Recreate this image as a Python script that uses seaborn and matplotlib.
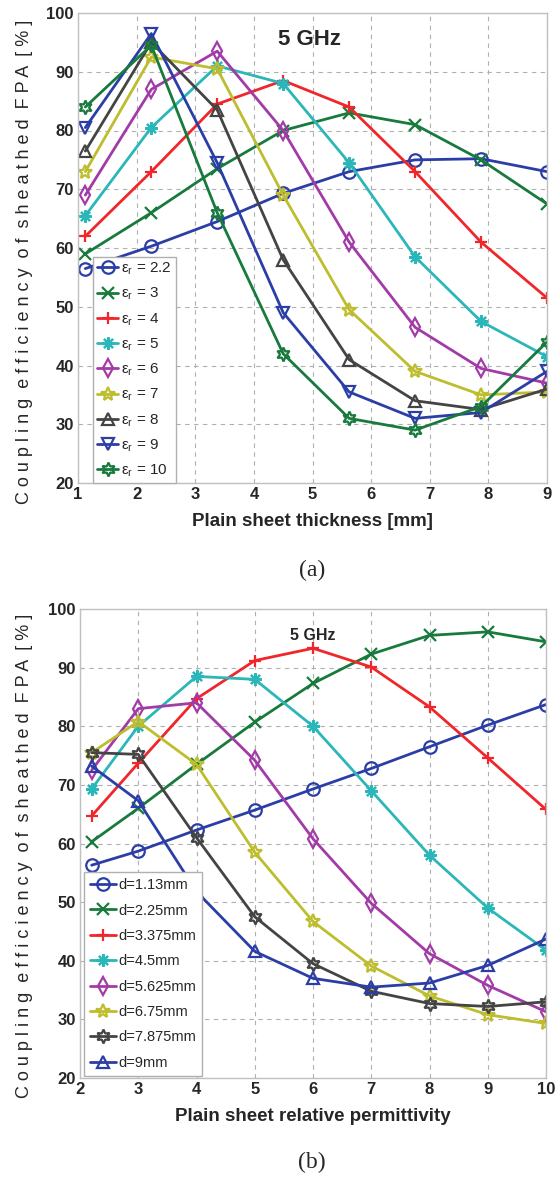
import matplotlib
matplotlib.use("Agg")
import matplotlib.pyplot as plt
import seaborn as sns
import numpy as np

# ---------------- data ----------------
thickness = [1.125, 2.25, 3.375, 4.5, 5.625, 6.75, 7.875, 9.0]
eps_labels = ["2.2", "3", "4", "5", "6", "7", "8", "9", "10"]
eff_eps22 = [56.5, 60.3, 64.5, 69.3, 73.0, 75.0, 75.2, 73.0]
eff_eps3 = [59.0, 66.0, 73.5, 80.0, 83.0, 81.0, 75.0, 67.5]
eff_eps4 = [62.0, 73.0, 84.5, 88.5, 84.0, 73.0, 61.0, 51.5]
eff_eps5 = [65.5, 80.5, 91.0, 88.0, 74.5, 58.5, 47.5, 41.5]
eff_eps6 = [69.0, 87.0, 93.5, 80.0, 61.0, 46.5, 39.5, 37.0]
eff_eps7 = [73.0, 92.5, 90.5, 69.0, 49.5, 39.0, 35.0, 35.5]
eff_eps8 = [76.5, 95.0, 83.5, 58.0, 41.0, 34.0, 32.5, 36.0]
eff_eps9 = [80.5, 96.5, 74.5, 49.0, 35.5, 31.0, 32.0, 39.0]
eff_eps10 = [84.0, 94.5, 66.0, 42.0, 31.0, 29.0, 33.0, 44.0]

permittivity = [2.2, 3, 4, 5, 6, 7, 8, 9, 10]
d_labels = ["d=1.13mm", "d=2.25mm", "d=3.375mm", "d=4.5mm", "d=5.625mm",
            "d=6.75mm", "d=7.875mm", "d=9mm"]
eff_d113 = [56.3, 58.7, 62.3, 65.7, 69.3, 72.8, 76.5, 80.2, 83.7]
eff_d225 = [60.3, 66.0, 73.5, 80.7, 87.3, 92.3, 95.5, 96.1, 94.4]
eff_d3375 = [64.7, 73.7, 84.7, 91.2, 93.3, 90.1, 83.3, 74.6, 65.8]
eff_d45 = [69.3, 80.0, 88.5, 88.0, 80.0, 69.0, 58.0, 49.0, 41.8]
eff_d5625 = [72.5, 83.0, 84.0, 74.2, 60.8, 49.8, 41.2, 35.8, 31.3]
eff_d675 = [75.5, 80.8, 73.5, 58.5, 46.7, 39.1, 34.0, 30.8, 29.3]
eff_d7875 = [75.5, 75.2, 61.0, 47.5, 39.5, 34.8, 32.7, 32.2, 33.0]
eff_d9 = [73.2, 67.3, 51.8, 41.6, 37.0, 35.5, 36.2, 39.2, 43.7]

# ---------------- style ----------------
sns.set_theme(style="white")
SANS = ["Liberation Sans", "DejaVu Sans"]
plt.rcParams["font.family"] = SANS
plt.rcParams["mathtext.default"] = "regular"

BLUE = "#2b3ea6"
GREEN = "#187a3c"
RED = "#f0262a"
CYAN = "#2bb7b9"
MAGENTA = "#a23aa8"
YELLOW = "#bdbd2e"
BLACK = "#444444"

hexagram = (6, 1, 0)
asterisk = (8, 2, 0)

top_colors = [BLUE, GREEN, RED, CYAN, MAGENTA, YELLOW, BLACK, BLUE, GREEN]
top_markers = ["o", "x", "+", asterisk, "d", "*", "^", "v", hexagram]
top_series = [eff_eps22, eff_eps3, eff_eps4, eff_eps5, eff_eps6, eff_eps7,
              eff_eps8, eff_eps9, eff_eps10]

bot_colors = [BLUE, GREEN, RED, CYAN, MAGENTA, YELLOW, BLACK, BLUE]
bot_markers = ["o", "x", "+", asterisk, "d", "*", hexagram, "^"]
bot_series = [eff_d113, eff_d225, eff_d3375, eff_d45, eff_d5625, eff_d675,
              eff_d7875, eff_d9]

W, H = 560, 1179
fig = plt.figure(figsize=(W / 100, H / 100), dpi=100)


def px_axes(l, r, t, b):
    return fig.add_axes([l / W, 1 - b / H, (r - l) / W, (b - t) / H])


def style_axes(ax, xlim, xticks):
    ax.set_xlim(*xlim)
    ax.set_ylim(20, 100)
    ax.set_xticks(xticks)
    ax.set_yticks(range(20, 101, 10))
    ax.grid(True, linestyle=(0, (4, 4)), color="#b0b0b0", linewidth=0.8)
    ax.set_axisbelow(True)
    for s in ax.spines.values():
        s.set_color("#c0c0c0")
        s.set_linewidth(1.0)
    ax.tick_params(length=0, pad=3, labelsize=12)
    for lab in ax.get_xticklabels() + ax.get_yticklabels():
        lab.set_fontweight("bold")


def draw(ax, x, series, colors, markers, labels):
    for ys, c, m, lab in zip(series, colors, markers, labels):
        ms = 10 if m in ("*", hexagram) else 9
        sns.lineplot(x=x, y=ys, ax=ax, color=c, linewidth=2.0, marker=m,
                     markersize=ms, markerfacecolor="none",
                     markeredgecolor=c, markeredgewidth=1.6, label=lab,
                     sort=False)


# ---------------- top panel ----------------
ax1 = px_axes(78, 547, 13, 483)
draw(ax1, thickness, top_series, top_colors, top_markers,
     [r"$\varepsilon_r$ = " + e for e in eps_labels])
style_axes(ax1, (1, 9), range(1, 10))
ax1.set_xlabel("Plain sheet thickness [mm]", fontsize=13.5, fontweight="bold",
               labelpad=8)
ax1.set_ylabel("")
ax1.text(4.95, 95.5, "5 GHz", ha="center", va="center", fontsize=16,
         fontweight="bold")
leg1 = ax1.legend(loc="lower left", bbox_to_anchor=(0.032, 0.0),
                  borderaxespad=0.0, fontsize=11, handlelength=1.4,
                  handletextpad=0.2, labelspacing=0.58, borderpad=0.25,
                  fancybox=False, framealpha=1, edgecolor="#b0b0b0")

# ---------------- bottom panel ----------------
ax2 = px_axes(80, 546, 609, 1078)
draw(ax2, permittivity, bot_series, bot_colors, bot_markers, d_labels)
style_axes(ax2, (2, 10), range(2, 11))
ax2.set_xlabel("Plain sheet relative permittivity", fontsize=13.5,
               fontweight="bold", labelpad=8)
ax2.set_ylabel("")
ax2.text(6.0, 95.4, "5 GHz", ha="center", va="center", fontsize=11.5,
         fontweight="bold")
leg2 = ax2.legend(loc="lower left", bbox_to_anchor=(0.008, 0.005),
                  borderaxespad=0.0, fontsize=10.5, handlelength=1.8,
                  handletextpad=0.2, labelspacing=0.78, borderpad=0.4,
                  fancybox=False, framealpha=1, edgecolor="#b0b0b0")

# ---------------- y labels (letter spaced) & captions ----------------
ylab = "Coupling efficiency of sheathed FPA [%]"
spaced = "  ".join(" ".join(list(w)) for w in ylab.split(" "))
fig.text(25 / W, 1 - 262 / H, spaced, rotation=90, ha="center", va="center",
         fontsize=13)
fig.text(25 / W, 1 - 856 / H, spaced, rotation=90, ha="center", va="center",
         fontsize=13)

fig.text(312 / W, 1 - 570 / H, "(a)", ha="center", va="center", fontsize=17,
         family=["Liberation Serif", "DejaVu Serif"])
fig.text(312 / W, 1 - 1162 / H, "(b)", ha="center", va="center", fontsize=17,
         family=["Liberation Serif", "DejaVu Serif"])

fig.savefig("out.png", dpi=100)
